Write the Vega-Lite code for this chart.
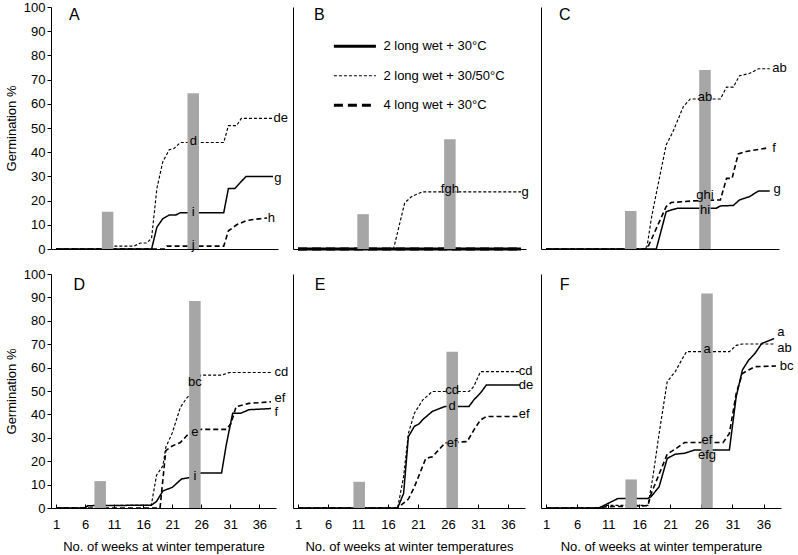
{
"$schema": "https://vega.github.io/schema/vega-lite/v6.json",
"padding": {"left": 5, "top": 1, "right": 0, "bottom": 0},
"config": {"view": {"stroke": null}, "font": "Liberation Sans",
  "axis": {"domainColor": "black", "tickColor": "black", "labelColor": "black", "titleColor": "black", "labelFontSize": 13, "titleFontSize": 13, "titleFontWeight": "normal", "grid": false, "labelFont": "Liberation Sans", "titleFont": "Liberation Sans", "labelFlush": false, "labelOverlap": false, "labelBound": false}},
"datasets": {
"lines": [
{"panel":"A","series":"2 long wet + 30°C","week":1,"value":0},{"panel":"A","series":"2 long wet + 30°C","week":17.3,"value":0},{"panel":"A","series":"2 long wet + 30°C","week":18.2,"value":9},{"panel":"A","series":"2 long wet + 30°C","week":19.2,"value":12.5},{"panel":"A","series":"2 long wet + 30°C","week":20.3,"value":14},{"panel":"A","series":"2 long wet + 30°C","week":21.4,"value":14},{"panel":"A","series":"2 long wet + 30°C","week":22.2,"value":15},{"panel":"A","series":"2 long wet + 30°C","week":29.6,"value":15},{"panel":"A","series":"2 long wet + 30°C","week":30.4,"value":25},{"panel":"A","series":"2 long wet + 30°C","week":31.5,"value":25},{"panel":"A","series":"2 long wet + 30°C","week":33.4,"value":30},{"panel":"A","series":"2 long wet + 30°C","week":38,"value":30},
{"panel":"A","series":"2 long wet + 30/50°C","week":1,"value":0},{"panel":"A","series":"2 long wet + 30/50°C","week":8.9,"value":0},{"panel":"A","series":"2 long wet + 30/50°C","week":9.2,"value":1.2},{"panel":"A","series":"2 long wet + 30/50°C","week":14.3,"value":1.2},{"panel":"A","series":"2 long wet + 30/50°C","week":15.4,"value":2.5},{"panel":"A","series":"2 long wet + 30/50°C","week":16.5,"value":2.5},{"panel":"A","series":"2 long wet + 30/50°C","week":17.3,"value":4.5},{"panel":"A","series":"2 long wet + 30/50°C","week":18.2,"value":25},{"panel":"A","series":"2 long wet + 30/50°C","week":19.2,"value":36},{"panel":"A","series":"2 long wet + 30/50°C","week":20.3,"value":41},{"panel":"A","series":"2 long wet + 30/50°C","week":21.1,"value":41.5},{"panel":"A","series":"2 long wet + 30/50°C","week":22.2,"value":44},{"panel":"A","series":"2 long wet + 30/50°C","week":29.6,"value":44},{"panel":"A","series":"2 long wet + 30/50°C","week":30.4,"value":51},{"panel":"A","series":"2 long wet + 30/50°C","week":31.8,"value":51},{"panel":"A","series":"2 long wet + 30/50°C","week":32.6,"value":54},{"panel":"A","series":"2 long wet + 30/50°C","week":38,"value":54},
{"panel":"A","series":"4 long wet + 30°C","week":1,"value":0},{"panel":"A","series":"4 long wet + 30°C","week":19.5,"value":0},{"panel":"A","series":"4 long wet + 30°C","week":19.9,"value":1.2},{"panel":"A","series":"4 long wet + 30°C","week":29.6,"value":1.2},{"panel":"A","series":"4 long wet + 30°C","week":30.4,"value":7.5},{"panel":"A","series":"4 long wet + 30°C","week":31.8,"value":10},{"panel":"A","series":"4 long wet + 30°C","week":33.4,"value":11.7},{"panel":"A","series":"4 long wet + 30°C","week":35,"value":12.3},{"panel":"A","series":"4 long wet + 30°C","week":37,"value":12.8},
{"panel":"B","series":"2 long wet + 30°C","week":1,"value":0},{"panel":"B","series":"2 long wet + 30°C","week":38,"value":0},
{"panel":"B","series":"2 long wet + 30/50°C","week":1,"value":0},{"panel":"B","series":"2 long wet + 30/50°C","week":16.85,"value":0},{"panel":"B","series":"2 long wet + 30/50°C","week":18.7,"value":19},{"panel":"B","series":"2 long wet + 30/50°C","week":19.8,"value":21.6},{"panel":"B","series":"2 long wet + 30/50°C","week":21.6,"value":23.6},{"panel":"B","series":"2 long wet + 30/50°C","week":38,"value":23.6},
{"panel":"B","series":"4 long wet + 30°C","week":1,"value":0},{"panel":"B","series":"4 long wet + 30°C","week":38,"value":0},
{"panel":"C","series":"2 long wet + 30°C","week":1,"value":0},{"panel":"C","series":"2 long wet + 30°C","week":18.9,"value":0},{"panel":"C","series":"2 long wet + 30°C","week":20.5,"value":15.4},{"panel":"C","series":"2 long wet + 30°C","week":21.3,"value":16.1},{"panel":"C","series":"2 long wet + 30°C","week":22.3,"value":16.8},{"panel":"C","series":"2 long wet + 30°C","week":28.6,"value":16.8},{"panel":"C","series":"2 long wet + 30°C","week":29.3,"value":17.8},{"panel":"C","series":"2 long wet + 30°C","week":31.4,"value":18},{"panel":"C","series":"2 long wet + 30°C","week":32.4,"value":20.3},{"panel":"C","series":"2 long wet + 30°C","week":34,"value":21.6},{"panel":"C","series":"2 long wet + 30°C","week":35.5,"value":24},{"panel":"C","series":"2 long wet + 30°C","week":37.3,"value":24},
{"panel":"C","series":"2 long wet + 30/50°C","week":1,"value":0},{"panel":"C","series":"2 long wet + 30/50°C","week":16.8,"value":0},{"panel":"C","series":"2 long wet + 30/50°C","week":17.4,"value":1},{"panel":"C","series":"2 long wet + 30/50°C","week":18.1,"value":12.7},{"panel":"C","series":"2 long wet + 30/50°C","week":18.9,"value":23},{"panel":"C","series":"2 long wet + 30/50°C","week":20.5,"value":43},{"panel":"C","series":"2 long wet + 30/50°C","week":21.5,"value":47.9},{"panel":"C","series":"2 long wet + 30/50°C","week":23.3,"value":58.9},{"panel":"C","series":"2 long wet + 30/50°C","week":24.4,"value":62},{"panel":"C","series":"2 long wet + 30/50°C","week":29.3,"value":62},{"panel":"C","series":"2 long wet + 30/50°C","week":30.3,"value":66.9},{"panel":"C","series":"2 long wet + 30/50°C","week":31.4,"value":66.9},{"panel":"C","series":"2 long wet + 30/50°C","week":32.4,"value":71.6},{"panel":"C","series":"2 long wet + 30/50°C","week":34,"value":72.5},{"panel":"C","series":"2 long wet + 30/50°C","week":35.5,"value":74.5},{"panel":"C","series":"2 long wet + 30/50°C","week":37.3,"value":74.5},
{"panel":"C","series":"4 long wet + 30°C","week":1,"value":0},{"panel":"C","series":"4 long wet + 30°C","week":17.4,"value":0},{"panel":"C","series":"4 long wet + 30°C","week":20.5,"value":17.5},{"panel":"C","series":"4 long wet + 30°C","week":21.3,"value":19.2},{"panel":"C","series":"4 long wet + 30°C","week":25,"value":19.9},{"panel":"C","series":"4 long wet + 30°C","week":29.3,"value":20.3},{"panel":"C","series":"4 long wet + 30°C","week":30.3,"value":29.2},{"panel":"C","series":"4 long wet + 30°C","week":31.2,"value":29.2},{"panel":"C","series":"4 long wet + 30°C","week":32.2,"value":39.3},{"panel":"C","series":"4 long wet + 30°C","week":33.5,"value":40.3},{"panel":"C","series":"4 long wet + 30°C","week":36.8,"value":41.7},
{"panel":"D","series":"2 long wet + 30°C","week":1,"value":0},{"panel":"D","series":"2 long wet + 30°C","week":5.9,"value":0},{"panel":"D","series":"2 long wet + 30°C","week":6.5,"value":1},{"panel":"D","series":"2 long wet + 30°C","week":17.4,"value":1.2},{"panel":"D","series":"2 long wet + 30°C","week":18.3,"value":2.8},{"panel":"D","series":"2 long wet + 30°C","week":19.4,"value":7.3},{"panel":"D","series":"2 long wet + 30°C","week":21,"value":8.8},{"panel":"D","series":"2 long wet + 30°C","week":22.6,"value":12.4},{"panel":"D","series":"2 long wet + 30°C","week":24,"value":13},{"panel":"D","series":"2 long wet + 30°C","week":25.9,"value":15},{"panel":"D","series":"2 long wet + 30°C","week":29.5,"value":15},{"panel":"D","series":"2 long wet + 30°C","week":30.3,"value":27},{"panel":"D","series":"2 long wet + 30°C","week":31.4,"value":40.5},{"panel":"D","series":"2 long wet + 30°C","week":32.8,"value":40.5},{"panel":"D","series":"2 long wet + 30°C","week":34.2,"value":42},{"panel":"D","series":"2 long wet + 30°C","week":38,"value":42.5},
{"panel":"D","series":"2 long wet + 30/50°C","week":1,"value":0},{"panel":"D","series":"2 long wet + 30/50°C","week":5.9,"value":0},{"panel":"D","series":"2 long wet + 30/50°C","week":6.5,"value":1},{"panel":"D","series":"2 long wet + 30/50°C","week":17.4,"value":1.2},{"panel":"D","series":"2 long wet + 30/50°C","week":18.3,"value":14},{"panel":"D","series":"2 long wet + 30/50°C","week":19.4,"value":18},{"panel":"D","series":"2 long wet + 30/50°C","week":19.9,"value":26},{"panel":"D","series":"2 long wet + 30/50°C","week":21,"value":32},{"panel":"D","series":"2 long wet + 30/50°C","week":22.4,"value":43},{"panel":"D","series":"2 long wet + 30/50°C","week":23.5,"value":47},{"panel":"D","series":"2 long wet + 30/50°C","week":24.6,"value":50},{"panel":"D","series":"2 long wet + 30/50°C","week":25.9,"value":56.8},{"panel":"D","series":"2 long wet + 30/50°C","week":29.5,"value":56.8},{"panel":"D","series":"2 long wet + 30/50°C","week":30.9,"value":57.9},{"panel":"D","series":"2 long wet + 30/50°C","week":38,"value":57.9},
{"panel":"D","series":"4 long wet + 30°C","week":1,"value":0},{"panel":"D","series":"4 long wet + 30°C","week":18.9,"value":0},{"panel":"D","series":"4 long wet + 30°C","week":19.9,"value":24.5},{"panel":"D","series":"4 long wet + 30°C","week":21,"value":26.5},{"panel":"D","series":"4 long wet + 30°C","week":22.4,"value":28},{"panel":"D","series":"4 long wet + 30°C","week":24,"value":32.2},{"panel":"D","series":"4 long wet + 30°C","week":25.9,"value":33.6},{"panel":"D","series":"4 long wet + 30°C","week":30.3,"value":33.6},{"panel":"D","series":"4 long wet + 30°C","week":31.1,"value":36},{"panel":"D","series":"4 long wet + 30°C","week":32,"value":43.3},{"panel":"D","series":"4 long wet + 30°C","week":34.2,"value":44.7},{"panel":"D","series":"4 long wet + 30°C","week":38,"value":45.4},
{"panel":"E","series":"2 long wet + 30°C","week":1,"value":0},{"panel":"E","series":"2 long wet + 30°C","week":17.6,"value":0},{"panel":"E","series":"2 long wet + 30°C","week":18.6,"value":6.2},{"panel":"E","series":"2 long wet + 30°C","week":19.4,"value":30.5},{"panel":"E","series":"2 long wet + 30°C","week":20.4,"value":34.9},{"panel":"E","series":"2 long wet + 30°C","week":21.2,"value":36},{"panel":"E","series":"2 long wet + 30°C","week":21.8,"value":37.8},{"panel":"E","series":"2 long wet + 30°C","week":23.4,"value":41.3},{"panel":"E","series":"2 long wet + 30°C","week":25.5,"value":43.4},{"panel":"E","series":"2 long wet + 30°C","week":29.5,"value":43.4},{"panel":"E","series":"2 long wet + 30°C","week":30.3,"value":46.2},{"panel":"E","series":"2 long wet + 30°C","week":31.4,"value":49.1},{"panel":"E","series":"2 long wet + 30°C","week":32.4,"value":52.6},{"panel":"E","series":"2 long wet + 30°C","week":38,"value":52.6},
{"panel":"E","series":"2 long wet + 30/50°C","week":1,"value":0},{"panel":"E","series":"2 long wet + 30/50°C","week":17.6,"value":0},{"panel":"E","series":"2 long wet + 30/50°C","week":18.6,"value":13.4},{"panel":"E","series":"2 long wet + 30/50°C","week":19.4,"value":31.9},{"panel":"E","series":"2 long wet + 30/50°C","week":20.4,"value":40.5},{"panel":"E","series":"2 long wet + 30/50°C","week":21.8,"value":46.2},{"panel":"E","series":"2 long wet + 30/50°C","week":23.4,"value":49.8},{"panel":"E","series":"2 long wet + 30/50°C","week":29.5,"value":49.8},{"panel":"E","series":"2 long wet + 30/50°C","week":30.3,"value":51.9},{"panel":"E","series":"2 long wet + 30/50°C","week":31.4,"value":58.3},{"panel":"E","series":"2 long wet + 30/50°C","week":38,"value":58.3},
{"panel":"E","series":"4 long wet + 30°C","week":1,"value":0},{"panel":"E","series":"4 long wet + 30°C","week":17.6,"value":0},{"panel":"E","series":"4 long wet + 30°C","week":19.4,"value":3.8},{"panel":"E","series":"4 long wet + 30°C","week":20.4,"value":9},{"panel":"E","series":"4 long wet + 30°C","week":22.3,"value":21.2},{"panel":"E","series":"4 long wet + 30°C","week":23.4,"value":21.9},{"panel":"E","series":"4 long wet + 30°C","week":24.7,"value":25.5},{"panel":"E","series":"4 long wet + 30°C","week":25.5,"value":27.8},{"panel":"E","series":"4 long wet + 30°C","week":29.2,"value":28.4},{"panel":"E","series":"4 long wet + 30°C","week":30.3,"value":33.3},{"panel":"E","series":"4 long wet + 30°C","week":31.4,"value":37.6},{"panel":"E","series":"4 long wet + 30°C","week":32.4,"value":39.1},{"panel":"E","series":"4 long wet + 30°C","week":38,"value":39.1},
{"panel":"F","series":"2 long wet + 30°C","week":1,"value":0},{"panel":"F","series":"2 long wet + 30°C","week":9.5,"value":0},{"panel":"F","series":"2 long wet + 30°C","week":12.6,"value":4.1},{"panel":"F","series":"2 long wet + 30°C","week":17.4,"value":4.1},{"panel":"F","series":"2 long wet + 30°C","week":17.9,"value":4.8},{"panel":"F","series":"2 long wet + 30°C","week":19.2,"value":9.1},{"panel":"F","series":"2 long wet + 30°C","week":20.5,"value":21.2},{"panel":"F","series":"2 long wet + 30°C","week":21.8,"value":23},{"panel":"F","series":"2 long wet + 30°C","week":23.3,"value":23.4},{"panel":"F","series":"2 long wet + 30°C","week":24.9,"value":24.8},{"panel":"F","series":"2 long wet + 30°C","week":30.5,"value":24.8},{"panel":"F","series":"2 long wet + 30°C","week":31.6,"value":47.6},{"panel":"F","series":"2 long wet + 30°C","week":32.6,"value":59},{"panel":"F","series":"2 long wet + 30°C","week":33.6,"value":63.2},{"panel":"F","series":"2 long wet + 30°C","week":34.6,"value":66},{"panel":"F","series":"2 long wet + 30°C","week":35.7,"value":70.3},{"panel":"F","series":"2 long wet + 30°C","week":37.7,"value":72.4},
{"panel":"F","series":"2 long wet + 30/50°C","week":1,"value":0},{"panel":"F","series":"2 long wet + 30/50°C","week":9.5,"value":0},{"panel":"F","series":"2 long wet + 30/50°C","week":10.5,"value":1.1},{"panel":"F","series":"2 long wet + 30/50°C","week":17.4,"value":1.1},{"panel":"F","series":"2 long wet + 30/50°C","week":18.2,"value":13.3},{"panel":"F","series":"2 long wet + 30/50°C","week":19.2,"value":31.9},{"panel":"F","series":"2 long wet + 30/50°C","week":20.5,"value":54},{"panel":"F","series":"2 long wet + 30/50°C","week":21.8,"value":58.3},{"panel":"F","series":"2 long wet + 30/50°C","week":22.8,"value":63.2},{"panel":"F","series":"2 long wet + 30/50°C","week":23.6,"value":66.8},{"panel":"F","series":"2 long wet + 30/50°C","week":30.5,"value":66.8},{"panel":"F","series":"2 long wet + 30/50°C","week":31.6,"value":69.5},{"panel":"F","series":"2 long wet + 30/50°C","week":32.6,"value":70.1},{"panel":"F","series":"2 long wet + 30/50°C","week":37.7,"value":70.1},
{"panel":"F","series":"4 long wet + 30°C","week":1,"value":0},{"panel":"F","series":"4 long wet + 30°C","week":9.5,"value":0},{"panel":"F","series":"4 long wet + 30°C","week":10.5,"value":0.5},{"panel":"F","series":"4 long wet + 30°C","week":17.4,"value":1},{"panel":"F","series":"4 long wet + 30°C","week":17.9,"value":6},{"panel":"F","series":"4 long wet + 30°C","week":19.2,"value":14.5},{"panel":"F","series":"4 long wet + 30°C","week":20.5,"value":23},{"panel":"F","series":"4 long wet + 30°C","week":21.8,"value":25.2},{"panel":"F","series":"4 long wet + 30°C","week":23.3,"value":28},{"panel":"F","series":"4 long wet + 30°C","week":29.5,"value":28},{"panel":"F","series":"4 long wet + 30°C","week":30.5,"value":31.9},{"panel":"F","series":"4 long wet + 30°C","week":31.6,"value":49},{"panel":"F","series":"4 long wet + 30°C","week":32.6,"value":57.5},{"panel":"F","series":"4 long wet + 30°C","week":33.6,"value":59},{"panel":"F","series":"4 long wet + 30°C","week":34.6,"value":60.4},{"panel":"F","series":"4 long wet + 30°C","week":38,"value":60.7}
],
"bars": [
{"panel":"A","week":9.8,"value":15.4},{"panel":"A","week":24.4,"value":64.4},
{"panel":"B","week":11.8,"value":14.4},{"panel":"B","week":26.2,"value":45.4},
{"panel":"C","week":14.75,"value":15.7},{"panel":"C","week":26.8,"value":74},
{"panel":"D","week":8.6,"value":11.5},{"panel":"D","week":24.9,"value":88.5},
{"panel":"E","week":11.2,"value":11.2},{"panel":"E","week":26.7,"value":66.8},
{"panel":"F","week":14.7,"value":12.2},{"panel":"F","week":26.9,"value":91.7}
],
"notes": [
{"panel":"A","kind":"mid","label":"d","week":24.4,"value":44.7},{"panel":"A","kind":"mid","label":"i","week":24.4,"value":15.4},{"panel":"A","kind":"mid","label":"j","week":24.4,"value":1.7},
{"panel":"B","kind":"mid","label":"fgh","week":26.2,"value":25},
{"panel":"C","kind":"mid","label":"ab","week":26.8,"value":63},{"panel":"C","kind":"mid","label":"ghi","week":26.8,"value":22.3},{"panel":"C","kind":"mid","label":"hi","week":26.8,"value":16.3},
{"panel":"D","kind":"mid","label":"bc","week":24.9,"value":54},{"panel":"D","kind":"mid","label":"e","week":24.9,"value":32.6},{"panel":"D","kind":"mid","label":"i","week":24.9,"value":13.7},
{"panel":"E","kind":"mid","label":"cd","week":26.7,"value":50.4},{"panel":"E","kind":"mid","label":"d","week":26.7,"value":43.7},{"panel":"E","kind":"mid","label":"ef","week":26.7,"value":27.6},
{"panel":"F","kind":"mid","label":"a","week":26.9,"value":67.9},{"panel":"F","kind":"mid","label":"ef","week":26.9,"value":29},{"panel":"F","kind":"mid","label":"efg","week":26.9,"value":22.6},
{"panel":"A","kind":"end","label":"de","week":38.1,"value":54},{"panel":"A","kind":"end","label":"g","week":38.2,"value":29.5},{"panel":"A","kind":"end","label":"h","week":37.1,"value":12.8},
{"panel":"B","kind":"end","label":"g","week":38.1,"value":23.5},
{"panel":"C","kind":"end","label":"ab","week":37.7,"value":75},{"panel":"C","kind":"end","label":"f","week":37.7,"value":41.7},{"panel":"C","kind":"end","label":"g","week":37.9,"value":25},
{"panel":"D","kind":"end","label":"cd","week":38.6,"value":58.3},{"panel":"D","kind":"end","label":"ef","week":38.6,"value":47},{"panel":"D","kind":"end","label":"f","week":38.6,"value":41.2},
{"panel":"E","kind":"end","label":"cd","week":37.8,"value":58.6},{"panel":"E","kind":"end","label":"de","week":37.8,"value":52.4},{"panel":"E","kind":"end","label":"ef","week":37.8,"value":40},
{"panel":"F","kind":"end","label":"a","week":38.2,"value":75.3},{"panel":"F","kind":"end","label":"ab","week":38.2,"value":68.4},{"panel":"F","kind":"end","label":"bc","week":38.6,"value":60.7},
{"panel":"A","kind":"tag","label":"A","week":3.2,"value":96.7},{"panel":"B","kind":"tag","label":"B","week":3.65,"value":96.7},{"panel":"C","kind":"tag","label":"C","week":3.1,"value":96.7},
{"panel":"D","kind":"tag","label":"D","week":4.0,"value":95.3},{"panel":"E","kind":"tag","label":"E","week":3.8,"value":95.3},{"panel":"F","kind":"tag","label":"F","week":3.2,"value":95.3}
]
},
"columns": 3,
"spacing": {"row": 25, "column": 15},
"bounds": "flush",
"resolve": {"scale": {"strokeDash": "independent", "strokeWidth": "independent"}, "legend": {"strokeDash": "independent", "strokeWidth": "independent"}},
"concat": [
{"width": 227, "height": 242,
 "encoding": {
  "x": {"field": "week", "type": "quantitative", "scale": {"domain": [1, 38], "nice": false, "zero": false}, "axis": {"ticks": false, "labels": false, "title": null}},
  "y": {"field": "value", "type": "quantitative", "scale": {"domain": [0, 100], "nice": false}, "axis": {"values": [0,10,20,30,40,50,60,70,80,90,100], "tickSize": 4, "labelPadding": 2, "title": "Germination %", "titleX": -39.7, "titleY": 121, "titleAngle": -90, "titleBaseline": "middle", "titleAlign": "center"}}
 },
 "layer": [
  {"data": {"name": "lines"}, "transform": [{"filter": "datum.panel === 'A'"}], "mark": {"type": "line", "color": "black"},
   "encoding": {"strokeDash": {"field": "series", "type": "nominal", "scale": {"domain": ["2 long wet + 30°C", "2 long wet + 30/50°C", "4 long wet + 30°C"], "range": [[1,0],[3,2],[5,3]]}, "legend": null},
                "strokeWidth": {"field": "series", "type": "nominal", "scale": {"type": "ordinal", "domain": ["2 long wet + 30°C", "2 long wet + 30/50°C", "4 long wet + 30°C"], "range": [1.5,1.15,1.6]}, "legend": null}}},
  {"data": {"name": "bars"}, "transform": [{"filter": "datum.panel === 'A'"}], "mark": {"type": "bar", "color": "#a6a6a6", "size": 11.5}, "encoding": {}},
  {"data": {"name": "notes"}, "transform": [{"filter": "datum.panel === 'A' && datum.kind === 'mid'"}], "mark": {"type": "text", "align": "center", "baseline": "middle", "fontSize": 13, "color": "black"}, "encoding": {"text": {"field": "label"}}},
  {"data": {"name": "notes"}, "transform": [{"filter": "datum.panel === 'A' && datum.kind === 'end'"}], "mark": {"type": "text", "align": "left", "baseline": "middle", "fontSize": 13, "color": "black"}, "encoding": {"text": {"field": "label"}}},
  {"data": {"name": "notes"}, "transform": [{"filter": "datum.panel === 'A' && datum.kind === 'tag'"}], "mark": {"type": "text", "align": "left", "baseline": "middle", "fontSize": 16, "color": "black"}, "encoding": {"text": {"field": "label"}}}
 ]},
{"width": 233, "height": 242,
 "encoding": {
  "x": {"field": "week", "type": "quantitative", "scale": {"domain": [1, 38], "nice": false, "zero": false}, "axis": {"ticks": false, "labels": false, "title": null}},
  "y": {"field": "value", "type": "quantitative", "scale": {"domain": [0, 100], "nice": false}, "axis": {"ticks": false, "labels": false, "title": null}}
 },
 "layer": [
  {"data": {"name": "lines"}, "transform": [{"filter": "datum.panel === 'B'"}], "mark": {"type": "line", "color": "black"},
   "encoding": {"strokeDash": {"field": "series", "type": "nominal", "scale": {"domain": ["2 long wet + 30°C", "2 long wet + 30/50°C", "4 long wet + 30°C"], "range": [[1,0],[3,2],[9,5]]},
                  "legend": {"orient": "none", "legendX": 39.4, "legendY": 16.7, "title": null, "symbolType": "stroke", "symbolSize": 1764, "symbolStrokeColor": "black", "labelFontSize": 13, "labelFont": "Liberation Sans", "labelColor": "black", "labelOffset": 6, "rowPadding": -15, "labelLimit": 300}},
                "strokeWidth": {"field": "series", "type": "nominal", "scale": {"type": "ordinal", "domain": ["2 long wet + 30°C", "2 long wet + 30/50°C", "4 long wet + 30°C"], "range": [3,1.15,3]},
                  "legend": {"orient": "none", "legendX": 39.4, "legendY": 16.7, "title": null, "symbolType": "stroke", "symbolSize": 1764, "symbolStrokeColor": "black", "labelFontSize": 13, "labelFont": "Liberation Sans", "labelColor": "black", "labelOffset": 6, "rowPadding": -15, "labelLimit": 300}}}},
  {"data": {"name": "bars"}, "transform": [{"filter": "datum.panel === 'B'"}], "mark": {"type": "bar", "color": "#a6a6a6", "size": 11.5}, "encoding": {}},
  {"data": {"name": "notes"}, "transform": [{"filter": "datum.panel === 'B' && datum.kind === 'mid'"}], "mark": {"type": "text", "align": "center", "baseline": "middle", "fontSize": 13, "color": "black"}, "encoding": {"text": {"field": "label"}}},
  {"data": {"name": "notes"}, "transform": [{"filter": "datum.panel === 'B' && datum.kind === 'end'"}], "mark": {"type": "text", "align": "left", "baseline": "middle", "fontSize": 13, "color": "black"}, "encoding": {"text": {"field": "label"}}},
  {"data": {"name": "notes"}, "transform": [{"filter": "datum.panel === 'B' && datum.kind === 'tag'"}], "mark": {"type": "text", "align": "left", "baseline": "middle", "fontSize": 16, "color": "black"}, "encoding": {"text": {"field": "label"}}}
 ]},
{"width": 238, "height": 242,
 "encoding": {
  "x": {"field": "week", "type": "quantitative", "scale": {"domain": [1, 38], "nice": false, "zero": false}, "axis": {"ticks": false, "labels": false, "title": null}},
  "y": {"field": "value", "type": "quantitative", "scale": {"domain": [0, 100], "nice": false}, "axis": {"ticks": false, "labels": false, "title": null}}
 },
 "layer": [
  {"data": {"name": "lines"}, "transform": [{"filter": "datum.panel === 'C'"}], "mark": {"type": "line", "color": "black"},
   "encoding": {"strokeDash": {"field": "series", "type": "nominal", "scale": {"domain": ["2 long wet + 30°C", "2 long wet + 30/50°C", "4 long wet + 30°C"], "range": [[1,0],[3,2],[5,3]]}, "legend": null},
                "strokeWidth": {"field": "series", "type": "nominal", "scale": {"type": "ordinal", "domain": ["2 long wet + 30°C", "2 long wet + 30/50°C", "4 long wet + 30°C"], "range": [1.5,1.15,1.6]}, "legend": null}}},
  {"data": {"name": "bars"}, "transform": [{"filter": "datum.panel === 'C'"}], "mark": {"type": "bar", "color": "#a6a6a6", "size": 11.5}, "encoding": {}},
  {"data": {"name": "notes"}, "transform": [{"filter": "datum.panel === 'C' && datum.kind === 'mid'"}], "mark": {"type": "text", "align": "center", "baseline": "middle", "fontSize": 13, "color": "black"}, "encoding": {"text": {"field": "label"}}},
  {"data": {"name": "notes"}, "transform": [{"filter": "datum.panel === 'C' && datum.kind === 'end'"}], "mark": {"type": "text", "align": "left", "baseline": "middle", "fontSize": 13, "color": "black"}, "encoding": {"text": {"field": "label"}}},
  {"data": {"name": "notes"}, "transform": [{"filter": "datum.panel === 'C' && datum.kind === 'tag'"}], "mark": {"type": "text", "align": "left", "baseline": "middle", "fontSize": 16, "color": "black"}, "encoding": {"text": {"field": "label"}}}
 ]},
{"width": 225, "height": 234,
 "encoding": {
  "x": {"field": "week", "type": "quantitative", "scale": {"domain": [1, 38], "nice": false, "zero": false}, "axis": {"values": [1,6,11,16,21,26,31,36], "tickSize": -4, "labelPadding": 14.5, "title": "No. of weeks at winter temperature", "titleY": 38.7, "titleBaseline": "middle"}},
  "y": {"field": "value", "type": "quantitative", "scale": {"domain": [0, 100], "nice": false}, "axis": {"values": [0,10,20,30,40,50,60,70,80,90,100], "tickSize": 4, "labelPadding": 2, "title": "Germination %", "titleX": -39.7, "titleY": 117, "titleAngle": -90, "titleBaseline": "middle", "titleAlign": "center"}}
 },
 "layer": [
  {"data": {"name": "lines"}, "transform": [{"filter": "datum.panel === 'D'"}], "mark": {"type": "line", "color": "black"},
   "encoding": {"strokeDash": {"field": "series", "type": "nominal", "scale": {"domain": ["2 long wet + 30°C", "2 long wet + 30/50°C", "4 long wet + 30°C"], "range": [[1,0],[3,2],[5,3]]}, "legend": null},
                "strokeWidth": {"field": "series", "type": "nominal", "scale": {"type": "ordinal", "domain": ["2 long wet + 30°C", "2 long wet + 30/50°C", "4 long wet + 30°C"], "range": [1.5,1.15,1.6]}, "legend": null}}},
  {"data": {"name": "bars"}, "transform": [{"filter": "datum.panel === 'D'"}], "mark": {"type": "bar", "color": "#a6a6a6", "size": 11.5}, "encoding": {}},
  {"data": {"name": "notes"}, "transform": [{"filter": "datum.panel === 'D' && datum.kind === 'mid'"}], "mark": {"type": "text", "align": "center", "baseline": "middle", "fontSize": 13, "color": "black"}, "encoding": {"text": {"field": "label"}}},
  {"data": {"name": "notes"}, "transform": [{"filter": "datum.panel === 'D' && datum.kind === 'end'"}], "mark": {"type": "text", "align": "left", "baseline": "middle", "fontSize": 13, "color": "black"}, "encoding": {"text": {"field": "label"}}},
  {"data": {"name": "notes"}, "transform": [{"filter": "datum.panel === 'D' && datum.kind === 'tag'"}], "mark": {"type": "text", "align": "left", "baseline": "middle", "fontSize": 16, "color": "black"}, "encoding": {"text": {"field": "label"}}}
 ]},
{"width": 232, "height": 234,
 "encoding": {
  "x": {"field": "week", "type": "quantitative", "scale": {"domain": [1, 38], "nice": false, "zero": false}, "axis": {"values": [1,6,11,16,21,26,31,36], "tickSize": -4, "labelPadding": 14.5, "title": "No. of weeks at winter temperatures", "titleY": 38.7, "titleBaseline": "middle"}},
  "y": {"field": "value", "type": "quantitative", "scale": {"domain": [0, 100], "nice": false}, "axis": {"ticks": false, "labels": false, "title": null}}
 },
 "layer": [
  {"data": {"name": "lines"}, "transform": [{"filter": "datum.panel === 'E'"}], "mark": {"type": "line", "color": "black"},
   "encoding": {"strokeDash": {"field": "series", "type": "nominal", "scale": {"domain": ["2 long wet + 30°C", "2 long wet + 30/50°C", "4 long wet + 30°C"], "range": [[1,0],[3,2],[5,3]]}, "legend": null},
                "strokeWidth": {"field": "series", "type": "nominal", "scale": {"type": "ordinal", "domain": ["2 long wet + 30°C", "2 long wet + 30/50°C", "4 long wet + 30°C"], "range": [1.5,1.15,1.6]}, "legend": null}}},
  {"data": {"name": "bars"}, "transform": [{"filter": "datum.panel === 'E'"}], "mark": {"type": "bar", "color": "#a6a6a6", "size": 11.5}, "encoding": {}},
  {"data": {"name": "notes"}, "transform": [{"filter": "datum.panel === 'E' && datum.kind === 'mid'"}], "mark": {"type": "text", "align": "center", "baseline": "middle", "fontSize": 13, "color": "black"}, "encoding": {"text": {"field": "label"}}},
  {"data": {"name": "notes"}, "transform": [{"filter": "datum.panel === 'E' && datum.kind === 'end'"}], "mark": {"type": "text", "align": "left", "baseline": "middle", "fontSize": 13, "color": "black"}, "encoding": {"text": {"field": "label"}}},
  {"data": {"name": "notes"}, "transform": [{"filter": "datum.panel === 'E' && datum.kind === 'tag'"}], "mark": {"type": "text", "align": "left", "baseline": "middle", "fontSize": 16, "color": "black"}, "encoding": {"text": {"field": "label"}}}
 ]},
{"width": 240, "height": 234,
 "encoding": {
  "x": {"field": "week", "type": "quantitative", "scale": {"domain": [1, 38], "nice": false, "zero": false}, "axis": {"values": [1,6,11,16,21,26,31,36], "tickSize": -4, "labelPadding": 14.5, "title": "No. of weeks at winter temperature", "titleY": 38.7, "titleBaseline": "middle"}},
  "y": {"field": "value", "type": "quantitative", "scale": {"domain": [0, 100], "nice": false}, "axis": {"ticks": false, "labels": false, "title": null}}
 },
 "layer": [
  {"data": {"name": "lines"}, "transform": [{"filter": "datum.panel === 'F'"}], "mark": {"type": "line", "color": "black"},
   "encoding": {"strokeDash": {"field": "series", "type": "nominal", "scale": {"domain": ["2 long wet + 30°C", "2 long wet + 30/50°C", "4 long wet + 30°C"], "range": [[1,0],[3,2],[5,3]]}, "legend": null},
                "strokeWidth": {"field": "series", "type": "nominal", "scale": {"type": "ordinal", "domain": ["2 long wet + 30°C", "2 long wet + 30/50°C", "4 long wet + 30°C"], "range": [1.5,1.15,1.6]}, "legend": null}}},
  {"data": {"name": "bars"}, "transform": [{"filter": "datum.panel === 'F'"}], "mark": {"type": "bar", "color": "#a6a6a6", "size": 11.5}, "encoding": {}},
  {"data": {"name": "notes"}, "transform": [{"filter": "datum.panel === 'F' && datum.kind === 'mid'"}], "mark": {"type": "text", "align": "center", "baseline": "middle", "fontSize": 13, "color": "black"}, "encoding": {"text": {"field": "label"}}},
  {"data": {"name": "notes"}, "transform": [{"filter": "datum.panel === 'F' && datum.kind === 'end'"}], "mark": {"type": "text", "align": "left", "baseline": "middle", "fontSize": 13, "color": "black"}, "encoding": {"text": {"field": "label"}}},
  {"data": {"name": "notes"}, "transform": [{"filter": "datum.panel === 'F' && datum.kind === 'tag'"}], "mark": {"type": "text", "align": "left", "baseline": "middle", "fontSize": 16, "color": "black"}, "encoding": {"text": {"field": "label"}}}
 ]}
]
}
